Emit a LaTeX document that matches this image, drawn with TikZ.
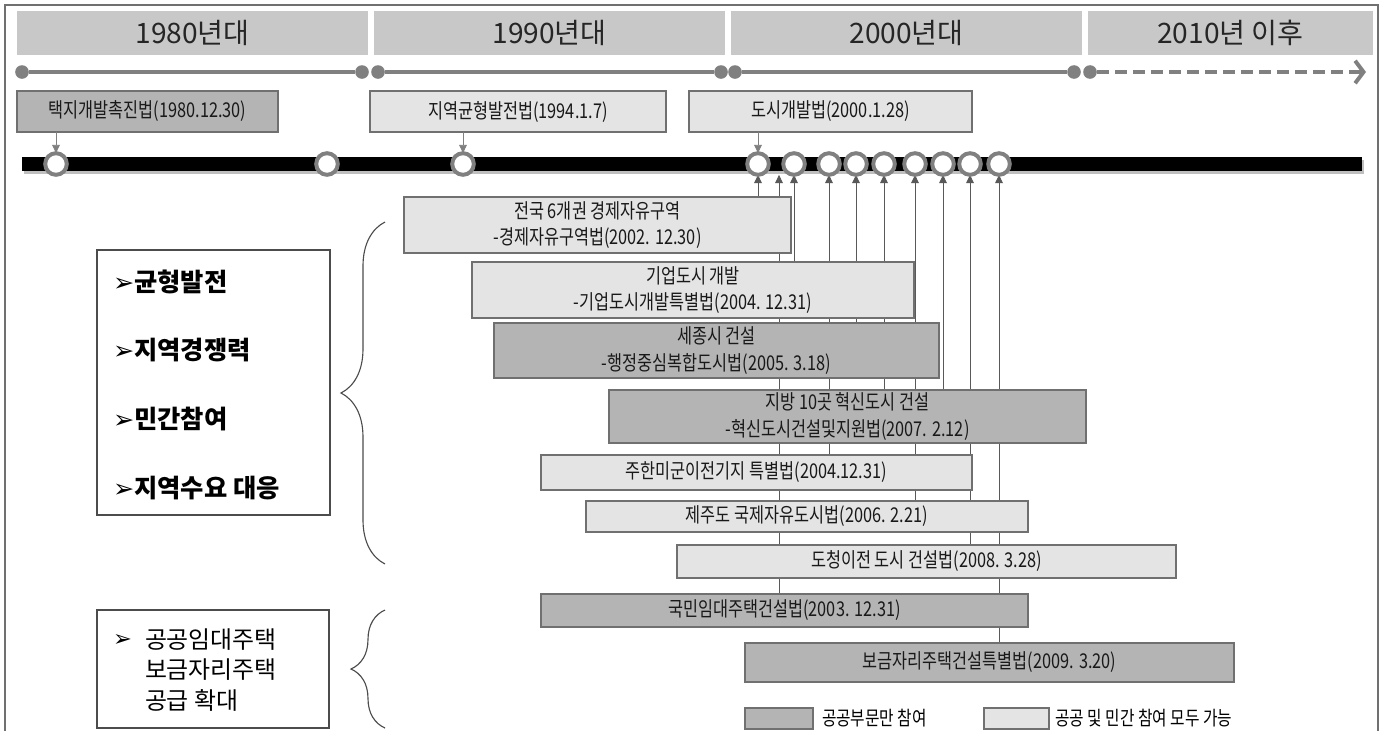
\documentclass[tikz,border=0pt]{standalone}
\usepackage{fontspec}
\setmainfont{Noto Sans CJK KR}
\newfontfamily\boxfont{Noto Sans CJK KR}[FakeStretch=0.8]
\newfontfamily\symfont{DejaVu Sans}
\usetikzlibrary{arrows.meta,backgrounds,decorations.pathreplacing}
\definecolor{hdrgray}{HTML}{C8C8C8}
\definecolor{darkfill}{HTML}{B4B4B4}
\definecolor{lightfill}{HTML}{E4E4E4}
\definecolor{edgegray}{HTML}{707070}
\definecolor{linegray}{HTML}{808080}
\begin{document}
\begin{tikzpicture}[x=0.025cm,y=-0.025cm,>={Triangle[length=5pt,width=5pt]},
  every node/.style={inner sep=0pt,outer sep=0pt},
  hdr/.style={fill=hdrgray,minimum height=1.1cm,font=\fontsize{20}{24}\selectfont,text=black!85},
  evbox/.style={draw=edgegray,line width=0.9pt,align=center,text=black!90,
    font=\boxfont\fontsize{14.5}{19}\selectfont},
  pub/.style={evbox,fill=darkfill},
  mix/.style={evbox,fill=lightfill},
  ring/.style={circle,draw=linegray,line width=2.8pt,fill=white,minimum size=0.54cm},
  dot/.style={circle,fill=linegray,minimum size=0.34cm},
  gline/.style={draw=linegray,line width=2.6pt},
  link/.style={draw=black!65,line width=0.7pt,->,>={Triangle[length=6pt,width=5.5pt]}},
  item/.style={anchor=west,font=\bfseries\fontsize{18}{22}\selectfont},
  note/.style={anchor=west,font=\boxfont\fontsize{14}{18}\selectfont}]
\useasboundingbox (0,0) rectangle (1385,731);
\draw[edgegray,line width=0.8pt] (5,731) -- (5,5) -- (1378,5) -- (1378,731);

% decades
\node[hdr,minimum width=8.775cm] (h80) at (192.5,33) {1980년대};
\node[hdr,minimum width=8.775cm] (h90) at (549.5,33) {1990년대};
\node[hdr,minimum width=8.775cm] (h00) at (906.5,33) {2000년대};
\node[hdr,minimum width=7.125cm] (h10) at (1230.5,33) {2010년 이후};

% grey period lines
\node[dot] (g1a) at (22,72) {};
\node[dot] (g1b) at (362,72) {};
\node[dot] (g2a) at (378,72) {};
\node[dot] (g2b) at (721,72) {};
\node[dot] (g3a) at (735,72) {};
\node[dot] (g3b) at (1074,72) {};
\node[dot] (g4a) at (1090,72) {};
\coordinate (g4b) at (1366,72);
\begin{scope}[on background layer]
\draw[gline] (g1a) -- (g1b);
\draw[gline] (g2a) -- (g2b);
\draw[gline] (g3a) -- (g3b);
\draw[gline,dash pattern=on 0.3cm off 0.15cm,-{Straight Barb[length=6pt,width=16pt,line width=2.8pt]}] (g4a) -- (g4b);
\end{scope}

% early laws
\node[pub,minimum width=6.525cm,minimum height=1.025cm] (evA) at (147.5,111.5) {택지개발촉진법(1980.12.30)};
\node[mix,minimum width=7.4cm,minimum height=1.025cm] (evB) at (518,111.5) {지역균형발전법(1994.1.7)};
\node[mix,minimum width=7.075cm,minimum height=1.025cm] (evC) at (830.5,111.5) {도시개발법(2000.1.28)};

% main bar
\coordinate (barL) at (22,164);
\coordinate (barR) at (1362,164);
\draw[black!25,line width=9.5pt] ([shift={(2,3)}]barL) -- ([shift={(2,3)}]barR);
\draw[black,line width=9.5pt] (barL) -- (barR);
\node[ring] (a1) at (56,164) {};
\node[ring] (a2) at (327,164) {};
\node[ring] (a3) at (463,164) {};
\foreach \x [count=\i] in {758,794,829,856,884,915,943,970,999}
  \node[ring] (d\i) at (\x,164) {};
\coordinate (x1) at (779,164);

\draw[link,draw=linegray] (a1 |- evA.south) -- (a1.north);
\draw[link,draw=linegray] (a3 |- evB.south) -- (a3.north);
\draw[link,draw=linegray] (d1 |- evC.south) -- (d1.north);

% laws of the 2000s
\node[mix,minimum width=9.675cm,minimum height=1.4cm] (econ) at (597.5,225)
  {전국 6개권 경제자유구역\\-경제자유구역법(2002. 12.30)};
\node[mix,minimum width=11.05cm,minimum height=1.4cm] (corp) at (693,290)
  {기업도시 개발\\-기업도시개발특별법(2004. 12.31)};
\node[pub,minimum width=11.125cm,minimum height=1.375cm] (sejong) at (716.5,350.5)
  {세종시 건설\\-행정중심복합도시법(2005. 3.18)};
\node[pub,minimum width=11.925cm,minimum height=1.325cm] (innov) at (847.5,416.5)
  {지방 10곳 혁신도시 건설\\-혁신도시건설및지원법(2007. 2.12)};
\node[mix,minimum width=10.775cm,minimum height=0.875cm] (usfk) at (756.5,472.5)
  {주한미군이전기지 특별법(2004.12.31)};
\node[mix,minimum width=11.05cm,minimum height=0.775cm] (jeju) at (807,516.5)
  {제주도 국제자유도시법(2006. 2.21)};
\node[mix,minimum width=12.475cm,minimum height=0.825cm] (prov) at (926.5,561.5)
  {도청이전 도시 건설법(2008. 3.28)};
\node[pub,minimum width=12.175cm,minimum height=0.825cm] (rent) at (784.5,610.5)
  {국민임대주택건설법(2003. 12.31)};
\node[pub,minimum width=12.225cm,minimum height=0.975cm] (bogeum) at (989.5,662.5)
  {보금자리주택건설특별법(2009. 3.20)};

\begin{scope}[on background layer]
\draw[link] (d1 |- econ.north) -- (d1.south);
\draw[link] (x1 |- rent.north) -- (x1 |- d1.south);
\draw[link] (d2 |- corp.north) -- (d2.south);
\draw[link] (d3 |- usfk.north) -- (d3.south);
\draw[link] (d4 |- sejong.north) -- (d4.south);
\draw[link] (d5 |- innov.north) -- (d5.south);
\draw[link] (d6 |- jeju.north) -- (d6.south);
\draw[link] (d7 |- innov.north) -- (d7.south);
\draw[link] (d8 |- prov.north) -- (d8.south);
\draw[link] (d9 |- bogeum.north) -- (d9.south);
\end{scope}

% goals
\node[draw=black!70,line width=0.8pt,minimum width=5.825cm,minimum height=6.625cm] (goals) at (213.5,382.5) {};
\node[item] (i1) at (113,282) {{\symfont\bfseries ➢}균형발전};
\node[item] (i2) at (113,350) {{\symfont\bfseries ➢}지역경쟁력};
\node[item] (i3) at (113,419) {{\symfont\bfseries ➢}민간참여};
\node[item] (i4) at (113,488) {{\symfont\bfseries ➢}지역수요 대응};
\node[draw=black!70,line width=0.8pt,minimum width=5.8cm,minimum height=2.95cm] (house) at (213,669) {};
\node[anchor=west,font=\fontsize{16}{21}\selectfont] (hb) at (113,640) {\symfont ➢};
\node[anchor=west,align=left,font=\fontsize{17}{21.5}\selectfont] (ht) at (145,670)
  {공공임대주택\\보금자리주택\\공급 확대};
\draw[black!70,line width=0.8pt,decorate,decoration={brace,amplitude=1.1cm}] (385,564) -- (385,222);
\draw[black!70,line width=0.8pt,decorate,decoration={brace,amplitude=0.85cm}] (385,728) -- (385,610);

% legend
\node[pub,minimum width=1.7cm,minimum height=0.525cm] (kpub) at (779,718.5) {};
\node[note] (tpub) at (822,718) {공공부문만 참여};
\node[mix,minimum width=1.625cm,minimum height=0.525cm] (kmix) at (1016.5,718.5) {};
\node[note] (tmix) at (1055,718) {공공 및 민간 참여 모두 가능};
\end{tikzpicture}
\end{document}
